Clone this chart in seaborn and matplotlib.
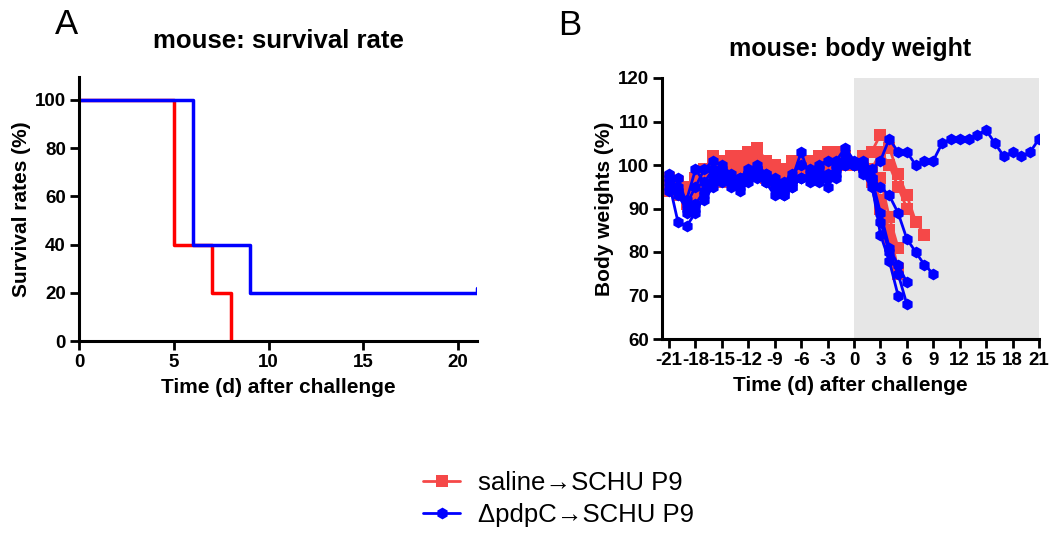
import numpy as np
import pandas as pd
import matplotlib
matplotlib.use('Agg')
import matplotlib.pyplot as plt
import seaborn as sns

# --- survival (Kaplan-Meier steps) ---
surv_days_saline = [0, 5, 7, 8]
surv_rate_saline = [100, 40, 20, 0]
surv_days_pdpc = [0, 6, 9, 21]
surv_rate_pdpc = [100, 40, 20, 20]

# --- body weights, days -21..0 then days after challenge ---
saline_1 = [97, 96, 94, 97, 99, 102, 101, 102, 101, 103, 104, 101, 100, 99, 101, 100, 101, 102, 103, 103, 102, 100,
            102, 103, 107, 104, 98, 93, 87, 84]
saline_2 = [96, 95, 91, 92, 95, 98, 99, 98, 99, 100, 101, 99, 98, 97, 99, 98, 100, 100, 101, 102, 101, 100,
            101, 99, 103, 100, 95, 90, 87]
saline_3 = [95, 93, 92, 94, 96, 97, 96, 97, 98, 99, 98, 97, 96, 95, 97, 98, 99, 98, 100, 101, 100, 100,
            100, 97, 92, 85, 76]
saline_4 = [94, 96, 95, 97, 98, 100, 98, 100, 102, 102, 103, 100, 98, 96, 98, 100, 99, 100, 103, 103, 102, 100,
            101, 98, 97, 88, 81]
saline_5 = [97, 94, 93, 95, 98, 99, 100, 99, 100, 101, 100, 98, 97, 98, 100, 101, 100, 99, 102, 100, 101, 100,
            100, 96, 90, 83, 75]

pdpc_1 = [98, 97, 91, 95, 99, 101, 100, 98, 97, 99, 100, 98, 97, 96, 98, 100, 99, 100, 101, 101, 104, 101,
          101, 99, 101, 106, 103, 103, 100, 101, 101, 105, 106, 106, 106, 107, 108, 105, 102, 103, 102, 103, 106]
pdpc_2 = [96, 87, 86, 89, 93, 96, 98, 95, 94, 96, 98, 96, 95, 93, 95, 97, 96, 97, 98, 99, 100, 100,
          99, 97, 95, 93, 89, 83, 80, 77, 75]
pdpc_3 = [95, 94, 92, 99, 96, 99, 97, 96, 95, 97, 99, 97, 95, 94, 96, 97, 98, 99, 95, 100, 102, 100,
          98, 95, 87, 80, 75, 68]
pdpc_4 = [94, 93, 90, 91, 94, 97, 99, 97, 96, 98, 97, 98, 96, 95, 97, 103, 97, 98, 97, 97, 101, 100,
          100, 97, 89, 81, 77, 73]
pdpc_5 = [97, 95, 89, 90, 92, 95, 96, 97, 97, 98, 99, 96, 93, 93, 95, 97, 97, 96, 97, 98, 100, 100,
          99, 96, 84, 78, 70]

group_saline = 'saline\u2192SCHU P9'
group_pdpc = '\u0394pdpC\u2192SCHU P9'

rows = []
for name, grp, vals in [('s1', group_saline, saline_1), ('s2', group_saline, saline_2),
                        ('s3', group_saline, saline_3), ('s4', group_saline, saline_4),
                        ('s5', group_saline, saline_5), ('p1', group_pdpc, pdpc_1),
                        ('p2', group_pdpc, pdpc_2), ('p3', group_pdpc, pdpc_3),
                        ('p4', group_pdpc, pdpc_4), ('p5', group_pdpc, pdpc_5)]:
    for i, v in enumerate(vals):
        rows.append({'mouse': name, 'group': grp, 'day': -21 + i, 'weight': v})
bw = pd.DataFrame(rows)

sns.set_theme(style='ticks')
plt.rcParams['font.family'] = ['Liberation Sans', 'DejaVu Sans']
plt.rcParams['axes.unicode_minus'] = False
plt.rcParams['text.color'] = 'black'
plt.rcParams['axes.labelcolor'] = 'black'

red_bw = '#f54848'
fig = plt.figure(figsize=(10.56, 5.35), dpi=100)

# panel A
ax1 = fig.add_axes([79 / 1056, 1 - 341 / 535, 398 / 1056, 264 / 535])
surv = pd.DataFrame({'day': surv_days_saline + surv_days_pdpc,
                     'rate': surv_rate_saline + surv_rate_pdpc,
                     'group': ['saline'] * 4 + ['pdpc'] * 4})
sns.lineplot(data=surv, x='day', y='rate', hue='group', palette={'saline': '#ff0000', 'pdpc': '#0000ff'},
             estimator=None, drawstyle='steps-post', linewidth=2.5, legend=False, ax=ax1)
ax1.plot([21, 21], [20, 22], color='#0000ff', linewidth=2.5)
ax1.set_xlim(0, 21)
ax1.set_ylim(0, 109.5)
ax1.set_xticks([0, 5, 10, 15, 20])
ax1.set_yticks([0, 20, 40, 60, 80, 100])
ax1.set_xlabel('Time (d) after challenge', fontsize=15, fontweight='bold', labelpad=5)
ax1.set_ylabel('Survival rates (%)', fontsize=15, fontweight='bold', labelpad=3)
ax1.set_title('mouse: survival rate', fontsize=18.5, fontweight='bold', pad=21)
ax1.text(-0.06, 1.197, 'A', transform=ax1.transAxes, fontsize=25, ha='left', va='center')

# panel B
ax2 = fig.add_axes([662 / 1056, 1 - 339 / 535, 377 / 1056, 261 / 535])
ax2.axvspan(0, 21, color='#e6e6e6', zorder=0, linewidth=0)
sns.lineplot(data=bw, x='day', y='weight', hue='group', style='group', units='mouse', estimator=None,
             palette={group_saline: red_bw, group_pdpc: '#0000ff'},
             markers={group_saline: 's', group_pdpc: 'h'}, dashes=False,
             markersize=8.5, markeredgewidth=0, linewidth=2, legend=False, ax=ax2)
ax2.set_xlim(-21.8, 21)
ax2.set_ylim(60, 120)
ax2.set_xticks(list(range(-21, 22, 3)))
ax2.set_yticks([60, 70, 80, 90, 100, 110, 120])
ax2.set_xlabel('Time (d) after challenge', fontsize=15, fontweight='bold', labelpad=5)
ax2.set_ylabel('Body weights (%)', fontsize=15, fontweight='bold', labelpad=3)
ax2.set_title('mouse: body weight', fontsize=18, fontweight='bold', pad=16)
ax2.text(-0.276, 1.2, 'B', transform=ax2.transAxes, fontsize=25, ha='left', va='center')

for ax in (ax1, ax2):
    for s in ['top', 'right']:
        ax.spines[s].set_visible(False)
    for s in ['left', 'bottom']:
        ax.spines[s].set_linewidth(2.2)
        ax.spines[s].set_color('black')
    ax.tick_params(width=2, length=6.5, labelsize=13.5, colors='black', pad=3)
    for lab in ax.get_xticklabels() + ax.get_yticklabels():
        lab.set_fontweight('bold')

# legend
h1 = plt.Line2D([], [], color=red_bw, marker='s', markersize=8.5, markeredgewidth=0, linewidth=2)
h2 = plt.Line2D([], [], color='#0000ff', marker='h', markersize=8.5, markeredgewidth=0, linewidth=2)
fig.legend([h1, h2], [group_saline, group_pdpc], loc='upper left',
           bbox_to_anchor=(423 / 1056, 1 - 471 / 535), frameon=False, fontsize=18.5,
           handlelength=1.45, handletextpad=0.7, labelspacing=0.32, borderpad=0, borderaxespad=0)

fig.savefig('out.png', dpi=100)
